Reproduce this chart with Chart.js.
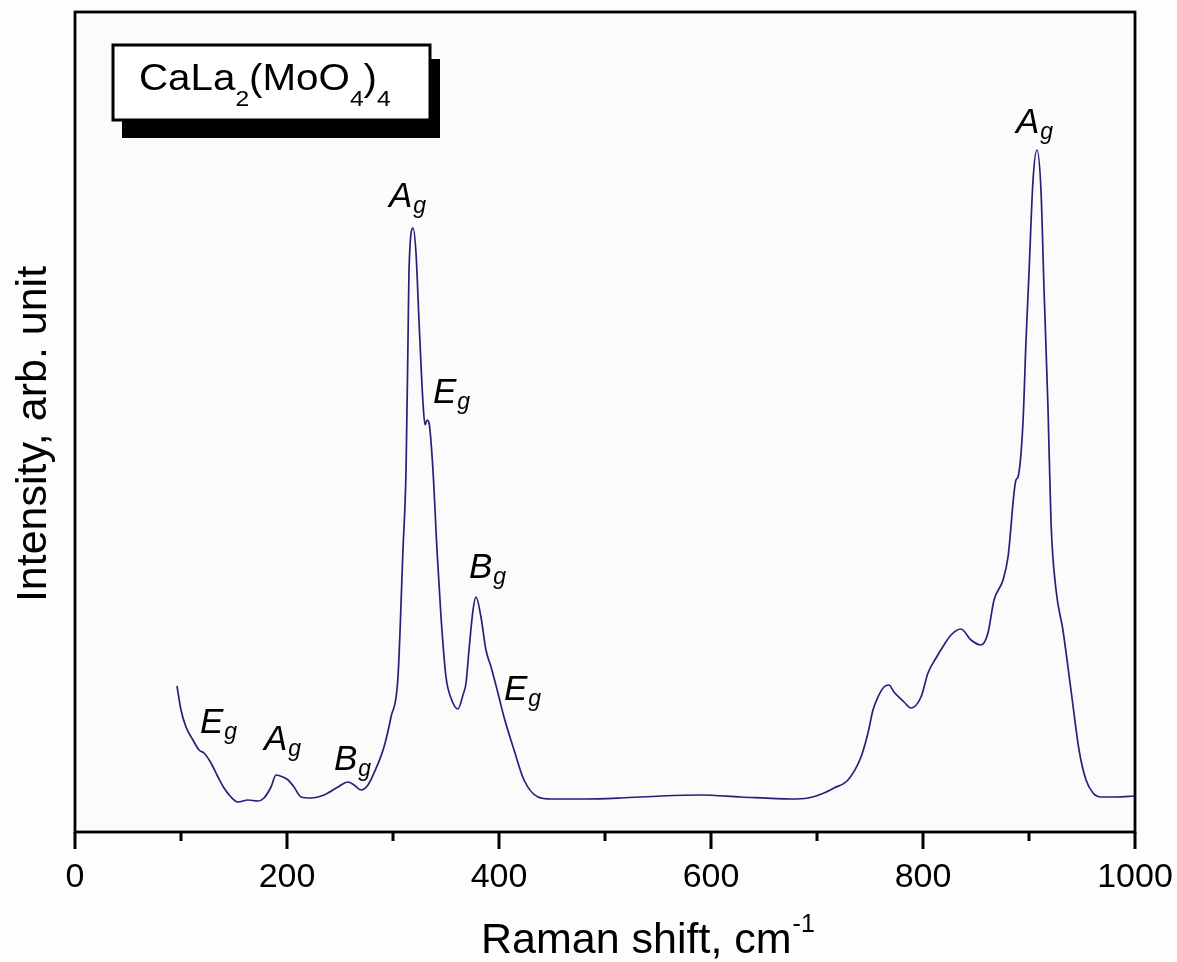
<!DOCTYPE html>
<html>
<head>
<meta charset="utf-8">
<script src="https://cdn.jsdelivr.net/npm/chart.js@4/dist/chart.umd.min.js"></script>
<style>
  html, body { margin: 0; padding: 0; background: #fdfdfd; }
  #wrap { width: 1177px; height: 962px; }
</style>
</head>
<body>
<div id="wrap"><canvas id="c" width="1177" height="962"></canvas></div>
<script>
// Raman shift (cm-1)
const ramanShift = [96.2,100,104.7,111.3,117,121.7,128.3,134.9,140.6,147.2,153.8,163.2,172.6,178.3,184.9,189.6,196.2,201,206.6,213.2,222.6,234.9,248.1,257.5,263.2,269.8,276.4,282.1,291.5,298.1,304.7,309.4,312.3,314.2,315.1,318.9,321.7,324.5,328.3,330.2,332.1,334,337.7,341.5,345.3,350,354.7,361.3,366,368.9,371.7,375.5,378.3,383,387.7,392.5,399,404.7,414.2,423.6,436.8,449.1,480.2,515,552.8,590.6,628.3,675.5,691.5,706.6,716,729.2,741.5,748.1,752.8,757.5,763.2,767.9,772.6,782.1,788.7,798.1,804.7,812.3,819.8,826.4,835.8,845.3,854.7,861.3,867,875.5,880.2,887.7,889.6,894.3,897.2,900,903.8,907.5,911.3,914.2,917.9,920.8,925.5,932,939.6,947.2,953.8,960.4,967.9,982,1000];
// Intensity (arb. unit)
const intensity = [146,122,105,92,82,79,69,55,44,35,30,32,31,34,45,57,55,52,45,35,34,37,45,50,47,42,47,59,85,115,155,282,362,495,562,604,579,512,429,407,412,409,362,282,215,155,134,123,137,149,182,222,235,215,182,165,139,115,82,52,35,33,33,34,36,37,35,33,34,39,44,52,75,99,122,135,145,147,140,130,124,135,159,174,187,197,203,192,187,199,232,252,275,352,355,409,492,559,652,682,642,542,425,309,242,202,142,82,52,39,35,35,36];
// x-axis tick labels
const xTickLabels = [0, 200, 400, 600, 800, 1000];
const xMinorTicks = [100, 300, 500, 700, 900];
// mode labels: letter, anchored at (Raman shift, intensity)
const modeLetters = ['E','A','B','A','E','B','E','A'];
const modeShift   = [117.9,178.3,244.3,296.2,337.7,371.7,404.7,887.7];
const modeInt     = [99,82,62,625,429,254,132,699];

const FONT = '"Liberation Sans", Arial, Helvetica, sans-serif';

const decor = {
  id: 'decor',
  beforeDraw(chart) {
    const {ctx, chartArea: a} = chart;
    ctx.save();
    ctx.fillStyle = '#fbfbfc';
    ctx.fillRect(a.left, a.top, a.right - a.left, a.bottom - a.top);
    ctx.restore();
  },
  afterDatasetsDraw(chart) {
    const {ctx, chartArea: a, scales} = chart;
    const xs = scales.x, ys = scales.y;
    ctx.save();
    // frame
    ctx.strokeStyle = '#000';
    ctx.lineWidth = 2.8;
    ctx.strokeRect(a.left, a.top, a.right - a.left, a.bottom - a.top);
    // ticks
    ctx.lineWidth = 3;
    ctx.beginPath();
    xTickLabels.forEach(v => { const p = xs.getPixelForValue(v); ctx.moveTo(p, a.bottom); ctx.lineTo(p, a.bottom + 17); });
    xMinorTicks.forEach(v => { const p = xs.getPixelForValue(v); ctx.moveTo(p, a.bottom); ctx.lineTo(p, a.bottom + 9); });
    ctx.stroke();
    // tick labels
    ctx.fillStyle = '#000';
    ctx.font = '34px ' + FONT;
    ctx.textAlign = 'center';
    ctx.textBaseline = 'alphabetic';
    xTickLabels.forEach(v => ctx.fillText(String(v), xs.getPixelForValue(v), a.bottom + 55));
    // x title
    ctx.textAlign = 'left';
    ctx.font = '43px ' + FONT;
    const main = 'Raman shift, cm';
    const w = ctx.measureText(main).width;
    ctx.font = '25px ' + FONT;
    const ws = ctx.measureText('-1').width;
    let x0 = xs.getPixelForValue(540) - (w + ws) / 2;
    ctx.font = '43px ' + FONT;
    ctx.fillText(main, x0, a.bottom + 121);
    ctx.font = '25px ' + FONT;
    ctx.fillText('-1', x0 + w + 1, a.bottom + 100);
    // y title
    ctx.save();
    ctx.translate(a.left - 29, (a.top + a.bottom) / 2 + 12);
    ctx.rotate(-Math.PI / 2);
    ctx.textAlign = 'center';
    ctx.font = '43px ' + FONT;
    ctx.fillText('Intensity, arb. unit', 0, 0);
    ctx.restore();
    // mode labels
    ctx.textAlign = 'left';
    modeLetters.forEach((L, i) => {
      const px = xs.getPixelForValue(modeShift[i]);
      const py = ys.getPixelForValue(modeInt[i]);
      ctx.font = 'italic 35px ' + FONT;
      ctx.fillText(L, px, py);
      const lw = ctx.measureText(L).width;
      ctx.font = 'italic 23px ' + FONT;
      ctx.fillText('g', px + lw + 1, py + 6);
    });
    // compound box
    const bx = a.left + 38, by = a.top + 33, bw = 317, bh = 75;
    ctx.fillStyle = '#000';
    ctx.fillRect(bx + 9, by + 14, bw + 1, bh + 4);
    ctx.fillStyle = '#fff';
    ctx.fillRect(bx, by, bw, bh);
    ctx.lineWidth = 3;
    ctx.strokeStyle = '#000';
    ctx.strokeRect(bx, by, bw, bh);
    ctx.fillStyle = '#000';
    ctx.save();
    ctx.translate(bx + 26, by + 45);
    ctx.scale(1.12, 1);
    let tx = 0;
    const parts = [['CaLa',0],['2',1],['(MoO',0],['4',1],[')',0],['4',1]];
    parts.forEach(([t, sub]) => {
      ctx.font = (sub ? '22px ' : '36px ') + FONT;
      ctx.fillText(t, tx, sub ? 16 : 0);
      tx += ctx.measureText(t).width;
    });
    ctx.restore();
    ctx.restore();
  }
};

const data = ramanShift.map((x, i) => ({x, y: intensity[i]}));

new Chart(document.getElementById('c'), {
  type: 'line',
  data: { datasets: [{
    data,
    borderColor: '#25217a',
    borderWidth: 1.7,
    pointRadius: 0,
    cubicInterpolationMode: 'monotone',
    fill: false
  }]},
  options: {
    responsive: false,
    animation: false,
    events: [],
    layout: { padding: { left: 75, top: 12, right: 42, bottom: 130 } },
    plugins: { legend: { display: false }, tooltip: { enabled: false } },
    scales: {
      x: { type: 'linear', min: 0, max: 1000, display: false },
      y: { type: 'linear', min: 0, max: 820, display: false }
    }
  },
  plugins: [decor]
});
</script>
</body>
</html>
